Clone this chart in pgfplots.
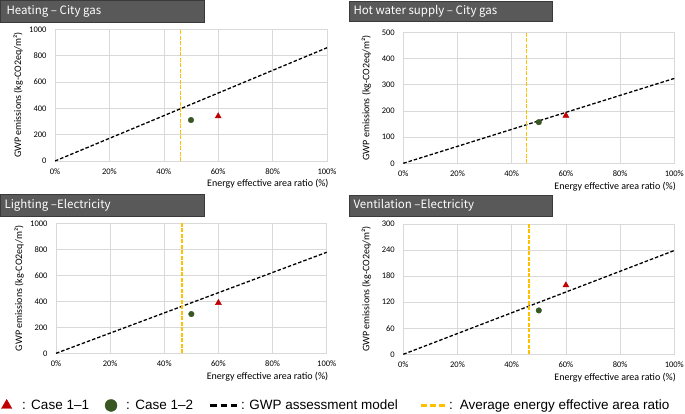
\documentclass[border=0pt]{standalone}
\usepackage{pgfplots}
\pgfplotsset{compat=1.18}
\usepackage{fontspec}
\setmainfont{Carlito}
\newfontfamily\titlefont{Noto Sans CJK KR}
\newfontfamily\legfont{Liberation Sans}

\definecolor{titlebg}{HTML}{595959}
\definecolor{titleborder}{HTML}{3A3A3A}
\definecolor{gridgray}{HTML}{D9D9D9}
\definecolor{avggold}{HTML}{FFC000}
\definecolor{casered}{HTML}{C00000}
\definecolor{casegreen}{HTML}{385723}

\newcommand{\legstrut}{\rule[-2.9pt]{0pt}{12.7pt}}

\pgfplotsset{
  panel/.style={
    scale only axis,
    xmin=0, xmax=100, ymin=0,
    xtick={0,20,40,60,80,100},
    xticklabels={0\%,20\%,40\%,60\%,80\%,100\%},
    grid=major,
    major grid style={draw=gridgray, line width=0.6pt},
    axis line style={draw=gridgray, line width=0.6pt},
    major tick length=0pt,
    /pgf/number format/assume math mode=true,
    /pgf/number format/1000 sep={},
    tick label style={font=\fontsize{8.5}{10}\selectfont},
    xticklabel style={yshift=-4pt},
    yticklabel style={xshift=-5pt},
    xlabel={Energy effective area ratio (\%)},
    ylabel={GWP emissions (kg-CO2eq/m²)},
    label style={font=\fontsize{8.5}{10}\selectfont},
    every axis x label/.style={at={(axis description cs:1,0)}, anchor=east, xshift=5pt, yshift=-23pt},
    every axis y label/.style={at={(axis description cs:-0.136,0.5)}, rotate=90, anchor=center},
    clip=false,
  },
  modelline/.style={draw=black, line width=1.3pt, dash pattern=on 3.5pt off 2pt},
  avgline/.style={draw=avggold, line width=1.3pt, dash pattern=on 4pt off 1.5pt},
  redcase/.style={only marks, mark=triangle*, mark size=3.5pt, draw=casered, fill=casered},
  greencase/.style={only marks, mark=*, mark size=2.8pt, draw=casegreen, fill=casegreen},
}

\begin{document}
\begin{tikzpicture}
\useasboundingbox (0pt,0pt) rectangle (685pt,413pt);

% title boxes
\draw[fill=titlebg, draw=titleborder, line width=0.8pt] (0.4pt,391pt) rectangle (204pt,412.6pt);
\node[anchor=west, text=white, font=\titlefont\fontsize{11.5}{14}\selectfont] at (3pt,402pt) {Heating – City gas};
\draw[fill=titlebg, draw=titleborder, line width=0.8pt] (349pt,392pt) rectangle (552pt,412pt);
\node[anchor=west, text=white, font=\titlefont\fontsize{11.5}{14}\selectfont] at (350pt,402pt) {Hot water supply – City gas};
\draw[fill=titlebg, draw=titleborder, line width=0.8pt] (0.4pt,197pt) rectangle (204pt,219pt);
\node[anchor=west, text=white, font=\titlefont\fontsize{11.5}{14}\selectfont] at (1pt,208pt) {Lighting –Electricity};
\draw[fill=titlebg, draw=titleborder, line width=0.8pt] (349pt,197pt) rectangle (552pt,218pt);
\node[anchor=west, text=white, font=\titlefont\fontsize{11.5}{14}\selectfont] at (350pt,207.5pt) {Ventilation –Electricity};

% Heating - City gas
\begin{axis}[panel, at={(55pt,252pt)}, anchor=south west, width=272pt, height=131.7pt,
  ymax=1000, ytick={0,200,...,1000}]
\addplot[modelline] coordinates {(0,0) (100,860)};
\addplot[avgline] coordinates {(46.1,0) (46.1,1000)};
\addplot[greencase] coordinates {(50,311)};
\addplot[redcase] coordinates {(60,340)};
\end{axis}

% Hot water supply - City gas
\begin{axis}[panel, at={(403.3pt,249.7pt)}, anchor=south west, width=271pt, height=131pt,
  ymax=500, ytick={0,100,...,500}]
\addplot[modelline] coordinates {(0,0) (100,324)};
\addplot[avgline] coordinates {(45.5,0) (45.5,500)};
\addplot[greencase] coordinates {(50,157)};
\addplot[redcase] coordinates {(60,182)};
\end{axis}

% Lighting - Electricity
\begin{axis}[panel, at={(56pt,59.7pt)}, anchor=south west, width=270.7pt, height=130pt,
  ymax=1000, ytick={0,200,...,1000}]
\addplot[modelline] coordinates {(0,0) (100,777)};
\addplot[avgline] coordinates {(46.5,0) (46.5,1000)};
\addplot[greencase] coordinates {(50,302)};
\addplot[redcase] coordinates {(60,388)};
\end{axis}

% Ventilation - Electricity
\begin{axis}[panel, at={(403.3pt,58.7pt)}, anchor=south west, width=271pt, height=130.3pt,
  ymax=300, ytick={0,60,...,300}]
\addplot[modelline] coordinates {(0,0) (100,239)};
\addplot[avgline] coordinates {(46.4,0) (46.4,300)};
\addplot[greencase] coordinates {(50,101)};
\addplot[redcase] coordinates {(60,159)};
\end{axis}

% shared legend in an empty, hidden axis along the bottom edge
\begin{axis}[hide axis, scale only axis, at={(0pt,0pt)}, anchor=south west,
  width=10pt, height=10pt, xmin=0, xmax=1, ymin=0, ymax=1,
  legend columns=4,
  legend cell align=left,
  legend style={at={(axis description cs:0,0.755)}, anchor=west, draw=none, fill=none,
    inner sep=0pt, outer sep=0pt, font=\legfont\fontsize{13.5}{16}\selectfont,
    nodes={inner sep=0pt},
    /tikz/column sep=0pt},
]
\addlegendimage{only marks, mark=triangle*, draw=casered, fill=casered,
  legend image code/.code={\path[draw=none, fill=none] (0pt,0pt) -- (22pt,0pt);
    \fill[casered] plot[mark=triangle*, mark size=6pt, only marks] coordinates {(6.7pt,0pt)};}}
\addlegendentry{\legstrut:\hspace{5.5pt}Case 1–1}
\addlegendimage{only marks, mark=*, draw=casegreen, fill=casegreen,
  legend image code/.code={\path[draw=none, fill=none] (0pt,0pt) -- (37pt,0pt);
    \fill[casegreen] plot[mark=*, mark size=6pt, only marks] coordinates {(22pt,0pt)};}}
\addlegendentry{\legstrut:\hspace{5.5pt}Case 1–2}
\addlegendimage{black,
  legend image code/.code={\path[draw=none, fill=none] (0pt,0pt) -- (48pt,0pt);
    \draw[black, line width=2.6pt, dash pattern=on 6.5pt off 4pt] (17pt,0pt) -- (44pt,0pt);}}
\addlegendentry{\legstrut:\hspace{4.5pt}GWP assessment model}
\addlegendimage{avggold,
  legend image code/.code={\path[draw=none, fill=none] (0pt,0pt) -- (51.2pt,0pt);
    \draw[avggold, line width=2.6pt, dash pattern=on 6pt off 3pt] (23.2pt,0pt) -- (47.2pt,0pt);}}
\addlegendentry{\legstrut:\hspace{7pt}Average energy effective area ratio}
\end{axis}
\end{tikzpicture}
\end{document}
